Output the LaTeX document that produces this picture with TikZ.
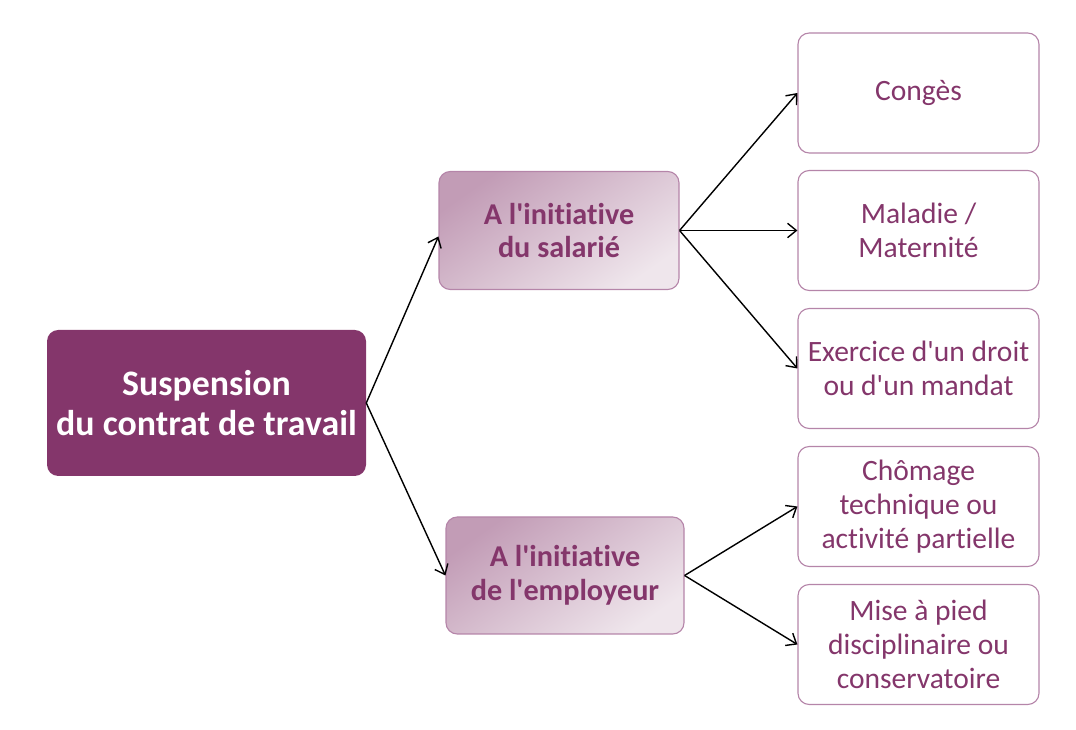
\documentclass[tikz,border=0pt]{standalone}
\usepackage{fontspec}
\setmainfont{Carlito}[Ligatures={TeXOff,CommonOff}]
\usepackage{xcolor}
\usepackage{tikz}
\usetikzlibrary{positioning,arrows.meta,calc}
\definecolor{PlumDark}{HTML}{84366B}
\definecolor{PlumMid}{HTML}{C29CB6}
\definecolor{PlumPale}{HTML}{EFE6EC}
\definecolor{PlumLine}{HTML}{B585A9}

\tikzset{
  mainbox/.style={fill=PlumDark, rounded corners=8pt, text=white,
    font=\fontsize{25.5}{28.5}\selectfont\bfseries, align=center,
    minimum width=7.975cm, minimum height=3.65cm},
  midbox/.style={draw=PlumLine, line width=0.8pt, rounded corners=8pt,
    top color=PlumMid, bottom color=PlumPale, shading angle=35,
    text=PlumDark, font=\fontsize{21.5}{24}\selectfont\bfseries, align=center,
    minimum width=6cm, minimum height=2.95cm},
  leafbox/.style={draw=PlumLine, line width=0.8pt, rounded corners=8pt, fill=white,
    text=PlumDark, font=\fontsize{21}{24}\selectfont, align=center,
    minimum width=6.025cm, minimum height=3cm},
  link/.style={draw=black, line width=1pt, -{Straight Barb[length=2.2mm,width=3.6mm]}}
}

\begin{document}
\begin{tikzpicture}
  \useasboundingbox (0,0) rectangle (26.9,18.25);

  % main node
  \node[mainbox] (suspension) at (5.1625,8.175) {Suspension\\du contrat de travail};

  % two branches
  \node[midbox] (salarie) at (13.975,12.4875) {A l'initiative\\du salarié};
  \node[midbox, minimum width=5.95cm, minimum height=2.925cm] (employeur) at (14.125,3.8625) {A l'initiative\\de l'employeur};

  % right column
  \node[leafbox] (conges) at (22.9625,15.925) {Congès};
  \node[leafbox] (maladie) at (22.9625,12.4875) {Maladie /\\Maternité};
  \node[leafbox] (droit) at (22.9625,9.0375) {Exercice d'un droit\\ou d'un mandat};
  \node[leafbox] (chomage) at (22.9625,5.5875) {Chômage\\technique ou\\activité partielle};
  \node[leafbox] (miseapied) at (22.9625,2.1375) {Mise à pied\\disciplinaire ou\\conservatoire};

  \draw[link] (suspension.east) -- ($(salarie.west)+(0,-0.15)$);
  \draw[link] (suspension.east) -- (employeur.west);

  \foreach \leaf in {conges,maladie,droit}
    \draw[link] (salarie.east) -- (\leaf.west);
  \foreach \leaf in {chomage,miseapied}
    \draw[link] (employeur.east) -- (\leaf.west);
\end{tikzpicture}
\end{document}
